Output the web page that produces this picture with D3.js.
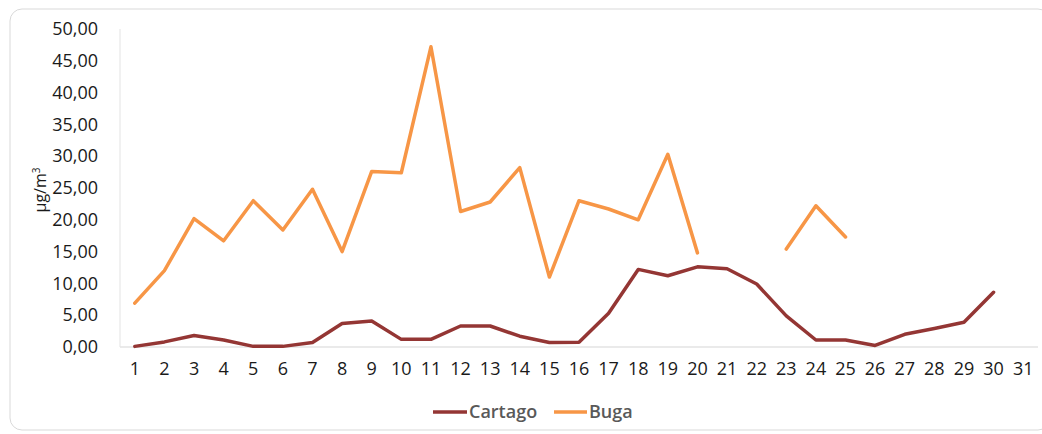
<!DOCTYPE html>
<html><head><meta charset="utf-8">
<script src="https://cdn.jsdelivr.net/npm/d3@7"></script>
<style>body{margin:0;background:#fff}svg{display:block;font-family:"Open Sans",sans-serif}</style>
</head><body>
<svg id="c" width="1042" height="434"></svg>
<script>
const days = d3.range(1, 32).map(String);
const cartago = [0.1,0.8,1.8,1.1,0.1,0.1,0.7,3.7,4.1,1.2,1.2,3.3,3.3,1.7,0.7,0.75,5.3,12.2,11.2,12.6,12.3,9.9,4.9,1.1,1.1,0.25,2.0,2.9,3.9,8.6,null];
const buga = [6.9,12.0,20.2,16.7,23.0,18.4,24.8,15.0,27.6,27.4,47.2,21.3,22.8,28.2,11.0,23.0,21.7,20.0,30.3,14.8,null,null,15.4,22.2,17.3,null,null,null,null,null,null];
const yTicks = d3.range(0, 55, 5);
const seriesNames = ["Cartago", "Buga"];
const colors = ["#943634", "#F79646"];

const svg = d3.select("#c");
svg.append("rect").attr("x",10).attr("y",9).attr("width",1040).attr("height",421).attr("rx",12)
  .attr("fill","#fff").attr("stroke","#d9d9d9").attr("stroke-width",1);

const L=120, R=1038, T=29, B=347;
const x = d3.scaleBand().domain(days).range([L,R]).padding(0);
const y = d3.scaleLinear().domain([0,50]).range([B,T]);

svg.append("line").attr("x1",L).attr("x2",L).attr("y1",T).attr("y2",B).attr("stroke","#e3e3e3");
svg.append("line").attr("x1",L).attr("x2",R).attr("y1",B).attr("y2",B).attr("stroke","#e3e3e3").attr("stroke-width",1.5);

const fmt = d => d3.format(".2f")(d).replace(".", ",");
const ya = svg.append("g").attr("transform",`translate(${L-19},0)`)
  .call(d3.axisLeft(y).tickValues(yTicks).tickFormat(fmt).tickSize(0));
ya.select(".domain").remove();
ya.selectAll("text").attr("font-size",18).attr("fill","#1a1a1a").attr("font-family","Open Sans");

const xa = svg.append("g").attr("transform",`translate(0,${B+12})`)
  .call(d3.axisBottom(x).tickSize(0));
xa.select(".domain").remove();
xa.selectAll("text").attr("font-size",18).attr("fill","#1a1a1a").attr("font-family","Open Sans").attr("dy","0.71em");

svg.append("text").attr("transform","translate(46,190) rotate(-90)").attr("text-anchor","middle")
  .attr("font-size",16).attr("fill","#1a1a1a")
  .html('µg/m<tspan dy="-6" font-size="10">3</tspan>');

const line = d3.line().defined(d => d != null)
  .x((d,i) => x(days[i]) + x.bandwidth()/2).y(d => y(d));
[cartago, buga].forEach((s,k) => {
  svg.append("path").datum(s).attr("d", line).attr("fill","none")
    .attr("stroke", colors[k]).attr("stroke-width",3.5).attr("stroke-linejoin","round").attr("stroke-linecap","round");
});

const leg = [{x1:433,x2:467,tx:469},{x1:554,x2:587,tx:589}];
seriesNames.forEach((n,k) => {
  svg.append("line").attr("x1",leg[k].x1).attr("x2",leg[k].x2).attr("y1",412).attr("y2",412)
    .attr("stroke",colors[k]).attr("stroke-width",3.5);
  svg.append("text").attr("x",leg[k].tx).attr("y",412).attr("dy","0.35em").attr("font-size",18)
    .attr("font-weight",600).attr("fill","#595959").text(n);
});
</script>
</body></html>
